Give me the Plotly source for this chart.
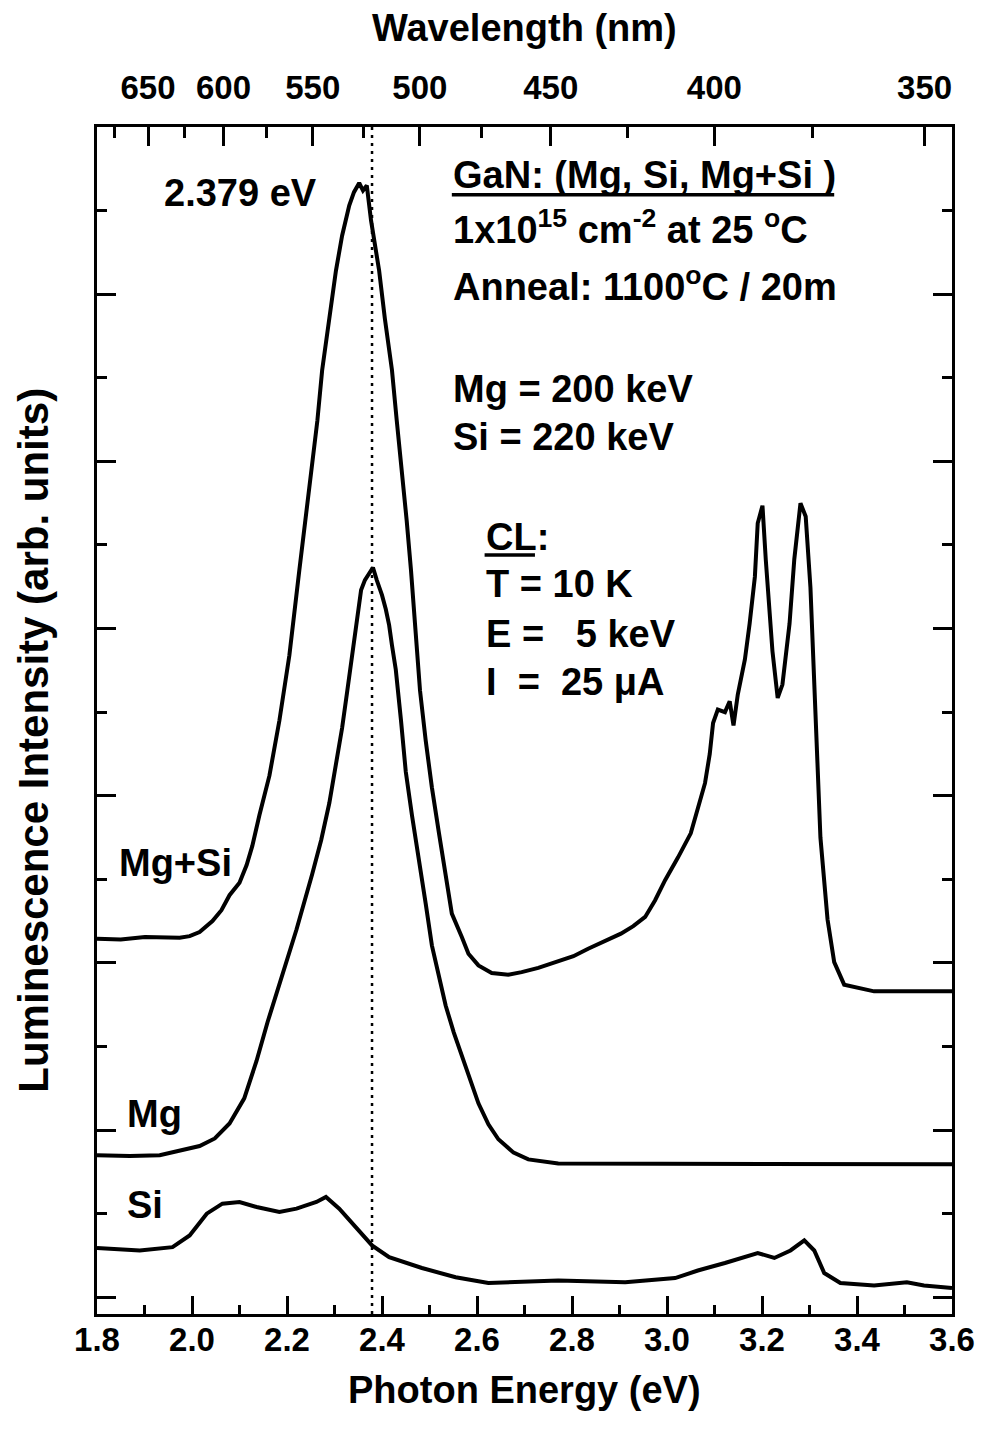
import plotly.graph_objects as go

# ---------------- data ----------------
energy_mgsi = [1.800, 1.850, 1.901, 1.951, 1.974, 1.995, 2.016, 2.043, 2.062, 2.079, 2.100, 2.115,
               2.127, 2.142, 2.163, 2.184, 2.205, 2.226, 2.238, 2.251, 2.264, 2.274, 2.289, 2.303,
               2.316, 2.331, 2.341, 2.352, 2.360, 2.368, 2.377, 2.394, 2.406, 2.421, 2.431, 2.442,
               2.452, 2.461, 2.471, 2.480, 2.492, 2.505, 2.520, 2.534, 2.547, 2.568, 2.582, 2.603,
               2.631, 2.666, 2.694, 2.729, 2.765, 2.803, 2.834, 2.870, 2.903, 2.929, 2.954, 2.975,
               2.996, 3.023, 3.050, 3.065, 3.080, 3.090, 3.097, 3.107, 3.122, 3.132, 3.140, 3.149,
               3.164, 3.174, 3.185, 3.191, 3.201, 3.208, 3.222, 3.233, 3.243, 3.258, 3.268, 3.281,
               3.292, 3.302, 3.313, 3.323, 3.338, 3.352, 3.373, 3.436, 3.500, 3.600]
int_mgsi = [4.29, 4.28, 4.31, 4.31, 4.30, 4.32, 4.37, 4.50, 4.63, 4.81, 4.96, 5.17,
            5.40, 5.77, 6.24, 6.90, 7.68, 8.70, 9.29, 9.89, 10.49, 11.09, 11.69, 12.28,
            12.70, 13.06, 13.22, 13.33, 13.24, 13.30, 12.88, 12.28, 11.71, 11.09, 10.49, 9.89,
            9.29, 8.70, 7.86, 7.26, 6.66, 6.10, 5.55, 5.06, 4.59, 4.31, 4.11, 3.97,
            3.88, 3.86, 3.89, 3.94, 4.01, 4.08, 4.17, 4.26, 4.35, 4.44, 4.55, 4.75,
            4.99, 5.26, 5.55, 5.85, 6.15, 6.50, 6.87, 7.03, 7.00, 7.13, 6.84, 7.21,
            7.63, 8.06, 8.62, 9.26, 9.47, 8.82, 7.73, 7.17, 7.33, 8.06, 8.83, 9.50,
            9.34, 8.49, 7.00, 5.50, 4.52, 4.01, 3.74, 3.66, 3.66, 3.66]

energy_mg = [1.800, 1.869, 1.932, 1.974, 2.016, 2.048, 2.079, 2.110, 2.136, 2.159, 2.184, 2.220,
             2.253, 2.272, 2.289, 2.303, 2.316, 2.327, 2.337, 2.348, 2.356, 2.364, 2.373, 2.381,
             2.389, 2.400, 2.408, 2.415, 2.421, 2.429, 2.440, 2.450, 2.463, 2.478, 2.492, 2.505,
             2.520, 2.534, 2.551, 2.568, 2.585, 2.603, 2.624, 2.645, 2.677, 2.708, 2.771, 2.960,
             3.170, 3.380, 3.600]
int_mg = [1.70, 1.69, 1.70, 1.75, 1.81, 1.90, 2.08, 2.38, 2.83, 3.29, 3.73, 4.40,
          5.06, 5.47, 5.91, 6.36, 6.81, 7.26, 7.70, 8.16, 8.46, 8.58, 8.67, 8.73,
          8.58, 8.40, 8.23, 8.04, 7.80, 7.51, 6.90, 6.29, 5.77, 5.25, 4.71, 4.21,
          3.83, 3.49, 3.17, 2.88, 2.60, 2.32, 2.07, 1.89, 1.73, 1.65, 1.60, 1.60,
          1.60, 1.59, 1.59]

energy_si = [1.800, 1.890, 1.959, 1.995, 2.031, 2.064, 2.100, 2.136, 2.184, 2.220, 2.262, 2.282,
             2.310, 2.345, 2.379, 2.415, 2.484, 2.555, 2.624, 2.771, 2.912, 3.017, 3.065, 3.122,
             3.191, 3.226, 3.260, 3.289, 3.310, 3.331, 3.365, 3.436, 3.505, 3.541, 3.600]
int_si = [0.59, 0.56, 0.60, 0.74, 1.00, 1.12, 1.14, 1.08, 1.02, 1.06, 1.14, 1.20,
          1.06, 0.84, 0.62, 0.48, 0.35, 0.24, 0.17, 0.20, 0.18, 0.23, 0.32, 0.41,
          0.53, 0.47, 0.56, 0.68, 0.56, 0.29, 0.17, 0.14, 0.18, 0.14, 0.11]

wavelength_major = [650, 600, 550, 500, 450, 400, 350]
wavelength_minor = [675, 625, 575, 525, 475, 425, 375]
PEAK_EV = 2.379
HC = 1239.84  # eV*nm, converts wavelength tick values to photon energy

FONT = "Liberation Sans, Arial, sans-serif"
NB = "\u00a0"

fig = go.Figure()
for xs, ys in [(energy_mgsi, int_mgsi), (energy_mg, int_mg), (energy_si, int_si)]:
    fig.add_trace(go.Scatter(x=xs, y=ys, mode="lines",
                             line=dict(color="black", width=4),
                             showlegend=False, hoverinfo="skip"))
# empty trace so the top (wavelength) axis is drawn
fig.add_trace(go.Scatter(x=[], y=[], xaxis="x2", showlegend=False, hoverinfo="skip"))

fig.add_vline(x=PEAK_EV, line=dict(color="black", width=2.5, dash="3px,5px"))

tickfont = dict(family=FONT, size=33, color="black", weight=700)
axis_common = dict(showgrid=False, zeroline=False, showline=True, linewidth=3,
                   linecolor="black", ticks="inside", tickwidth=3, tickcolor="black")

fig.update_layout(
    width=987, height=1439,
    margin=dict(l=97, r=29, t=127, b=125),
    paper_bgcolor="white", plot_bgcolor="white",
    xaxis=dict(range=[1.8, 3.6], tick0=1.8, dtick=0.2, tickformat=".1f",
               ticklen=18, tickfont=tickfont, mirror=False, ticklabelstandoff=-6,
               minor=dict(tick0=1.8, dtick=0.1, ticks="inside", ticklen=9,
                          tickwidth=3, tickcolor="black", showgrid=False),
               **axis_common),
    xaxis2=dict(range=[1.8, 3.6], overlaying="x", side="top", anchor="y",
                tickmode="array",
                tickvals=[HC / w for w in wavelength_major],
                ticktext=[str(w) for w in wavelength_major],
                ticklen=19, tickfont=tickfont, ticklabelstandoff=12,
                minor=dict(tickmode="array", tickvals=[HC / w for w in wavelength_minor],
                           ticks="inside", ticklen=11, tickwidth=3, tickcolor="black",
                           showgrid=False),
                **axis_common),
    yaxis=dict(range=[-0.2, 14], tick0=0, dtick=2, ticklen=19, showticklabels=False,
               mirror="ticks",
               minor=dict(tick0=0, dtick=1, ticks="inside", ticklen=10,
                          tickwidth=3, tickcolor="black", showgrid=False),
               **axis_common),
)

big = dict(family=FONT, size=38, color="black", weight=700)


def note(text, x, y, **kw):
    fig.add_annotation(text=text, x=x, y=y, xref="x", yref="y", showarrow=False,
                       xanchor="left", yanchor="middle", font=big, **kw)


def underline(x0, x1, y):
    fig.add_shape(type="line", xref="x", yref="y", x0=x0, x1=x1, y0=y, y1=y,
                  line=dict(color="black", width=3.5))


note("2.379 eV", 1.936, 13.21)
note("GaN: (Mg, Si, Mg+Si )", 2.545, 13.42)
underline(2.547, 3.352, 13.19)
note("1x10<sup>15</sup> cm<sup>-2</sup> at 25 <sup>o</sup>C", 2.545, 12.80)
note("Anneal: 1100<sup>o</sup>C / 20m", 2.545, 12.12)
note("Mg = 200 keV", 2.545, 10.87)
note("Si = 220 keV", 2.545, 10.29)
note("CL:", 2.614, 9.10)
underline(2.616, 2.722, 8.88)
note("T = 10 K", 2.614, 8.53)
note("E =" + NB + NB + " 5 keV", 2.614, 7.94)
note("I" + NB + " =" + NB + " 25 \u03bcA", 2.614, 7.36)
note("Mg+Si", 1.842, 5.19)
note("Mg", 1.859, 2.19)
note("Si", 1.859, 1.10)

# axis titles
fig.add_annotation(text="Photon Energy (eV)", xref="paper", yref="paper", x=0.5, y=-0.064,
                   xanchor="center", yanchor="middle", showarrow=False, font=big)
fig.add_annotation(text="Wavelength (nm)", xref="paper", yref="paper", x=0.5, y=1.083,
                   xanchor="center", yanchor="middle", showarrow=False, font=big)
fig.add_annotation(text="Luminescence Intensity (arb. units)", xref="paper", yref="paper",
                   x=-0.074, y=0.4836, xanchor="center", yanchor="middle", textangle=-90,
                   showarrow=False, font=dict(family=FONT, size=42, color="black", weight=700))

fig.write_html("out.html")
